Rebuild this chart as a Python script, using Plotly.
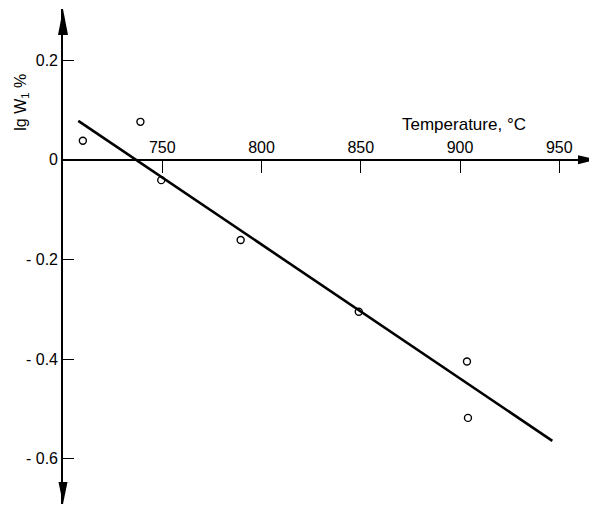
import plotly.graph_objects as go

# Data
temp_c = [710, 739, 749.5, 789.5, 849, 903.5, 904]
lg_w = [0.038, 0.076, -0.041, -0.161, -0.305, -0.405, -0.518]
fit_temp = [707.7, 946.5]
fit_lg_w = [0.078, -0.564]

x_ticks = [750, 800, 850, 900, 950]
x_ticktext = ["750", "800", "850", "900", "950"]
y_ticks = [0.2, 0, -0.2, -0.4, -0.6]
y_ticktext = ["0.2", "0", "- 0.2", "- 0.4", "- 0.6"]

x_range = [700, 969.0]
y_range = [-0.6908, 0.3024]

FONT = "Liberation Sans"

fig = go.Figure()
fig.add_trace(go.Scatter(x=fit_temp, y=fit_lg_w, mode="lines",
                         line=dict(color="black", width=2.6), showlegend=False))
fig.add_trace(go.Scatter(x=temp_c, y=lg_w, mode="markers",
                         marker=dict(symbol="circle-open", size=7, color="black",
                                     line=dict(width=1.4)), showlegend=False))

x_axis_pos = (0 - y_range[0]) / (y_range[1] - y_range[0])

# page body has an 8px margin, so the figure is 8px smaller than the window
fig.update_layout(
    width=589, height=498,
    margin=dict(l=55, r=0, t=1, b=2),
    paper_bgcolor="white", plot_bgcolor="white",
    font=dict(family=FONT, size=16, color="black"),
    xaxis=dict(range=x_range, showgrid=False, zeroline=False, automargin=False,
               side="top", anchor="free", position=x_axis_pos,
               showline=True, linecolor="black", linewidth=1.6,
               ticks="inside", ticklen=12, tickwidth=1.3, tickcolor="black",
               tickvals=x_ticks, ticktext=x_ticktext,
               tickfont=dict(family=FONT, size=16)),
    yaxis=dict(range=y_range, showgrid=False, zeroline=False, automargin=False,
               showline=True, linecolor="black", linewidth=1.6,
               ticks="inside", ticklen=11, tickwidth=1.3, tickcolor="black",
               tickvals=y_ticks, ticktext=y_ticktext,
               tickfont=dict(family=FONT, size=16)),
)

# Arrowheads on axis ends (pixel-sized paths anchored at the axis ends, paper refs)
fig.add_shape(type="path", xref="paper", yref="paper", xsizemode="pixel", ysizemode="pixel",
              xanchor=0, yanchor=1,
              path="M0,0 L-5,-26 L5,-26 Z", fillcolor="black", line=dict(width=0))
fig.add_shape(type="path", xref="paper", yref="paper", xsizemode="pixel", ysizemode="pixel",
              xanchor=0, yanchor=0,
              path="M0,0 L-4.5,22 L4.5,22 Z", fillcolor="black", line=dict(width=0))
fig.add_shape(type="path", xref="paper", yref="paper", xsizemode="pixel", ysizemode="pixel",
              xanchor=1, yanchor=x_axis_pos,
              path="M0,0 L-19,-4.5 L-19,4.5 Z", fillcolor="black", line=dict(width=0))

fig.add_annotation(text="Temperature, °C", xref="x", yref="y", x=902, y=0.07,
                   showarrow=False, font=dict(family=FONT, size=17))
fig.add_annotation(text="lg W<sub>1</sub> %", xref="paper", yref="y",
                   x=-0.078, y=0.115, xanchor="center", yanchor="middle",
                   showarrow=False, textangle=-90,
                   font=dict(family=FONT, size=16))

fig.write_html("out.html")
